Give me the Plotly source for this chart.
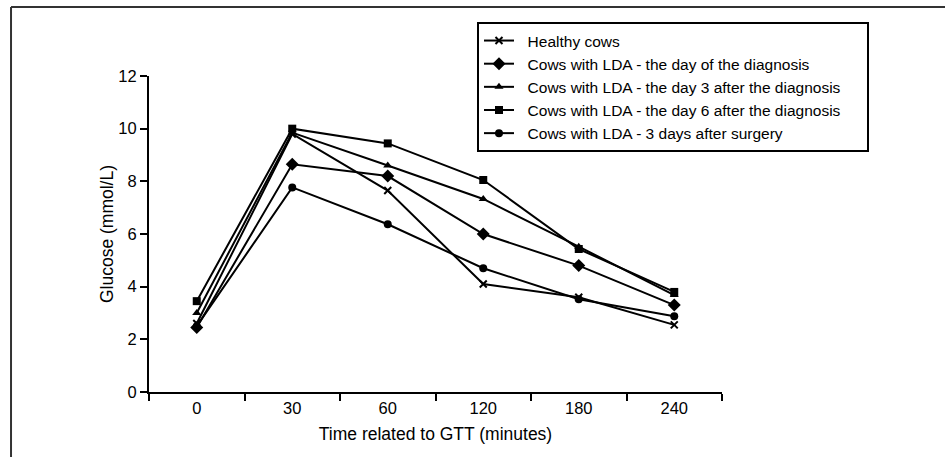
import plotly.graph_objects as go

times = ["0", "30", "60", "120", "180", "240"]
healthy = [2.6, 9.8, 7.65, 4.1, 3.6, 2.55]
lda_day0 = [2.45, 8.65, 8.2, 6.0, 4.8, 3.3]
lda_day3 = [3.0, 9.85, 8.6, 7.33, 5.52, 3.68]
lda_day6 = [3.45, 10.0, 9.44, 8.05, 5.43, 3.8]
lda_surgery = [2.5, 7.77, 6.37, 4.7, 3.52, 2.88]

names = [
    "  Healthy cows",
    "  Cows with LDA - the day of the diagnosis",
    "  Cows with LDA - the day 3 after the diagnosis\u00a0\u00a0\u00a0\u00a0\u00a0",
    "  Cows with LDA - the day 6 after the diagnosis",
    "  Cows with LDA - 3 days after surgery",
]
series = [healthy, lda_day0, lda_day3, lda_day6, lda_surgery]
symbols = ["x-thin", "diamond", "triangle-up", "square", "circle"]
sizes = [7, 10, 8, 8, 8]

fig = go.Figure()
for n, s, sym, sz in zip(names, series, symbols, sizes):
    fig.add_trace(go.Scatter(
        x=times, y=s, name=n, mode="lines+markers",
        line=dict(color="black", width=2),
        marker=dict(symbol=sym, size=sz, color="black",
                    line=dict(color="black", width=2 if sym == "x-thin" else 0)),
    ))

font_family = "Liberation Sans, Arial, sans-serif"
fig.update_layout(
    width=945, height=457,
    margin=dict(l=149, r=223, t=76, b=65),
    paper_bgcolor="white", plot_bgcolor="white",
    font=dict(family=font_family, size=16, color="black"),
    showlegend=True,
    legend=dict(
        x=0.5724, y=1.171, xanchor="left", yanchor="top",
        bordercolor="black", borderwidth=2, bgcolor="white",
        font=dict(size=15.5, color="black"),
        tracegroupgap=0,
    ),
    xaxis=dict(
        type="category", range=[-0.5, 5.5],
        showline=True, linecolor="black", linewidth=2,
        ticks="outside", tickson="boundaries", ticklen=7, tickwidth=2, tickcolor="black",
        showgrid=False, zeroline=False,
        title=dict(text="Time related to GTT (minutes)", font=dict(size=17.5), standoff=12),
        tickfont=dict(size=16.5),
    ),
    yaxis=dict(
        range=[0, 12], dtick=2,
        showline=True, linecolor="black", linewidth=2,
        ticks="outside", ticklen=7, tickwidth=2, tickcolor="black",
        showgrid=False, zeroline=False,
        title=dict(text="Glucose (mmol/L)", font=dict(size=17.5), standoff=0),
        tickfont=dict(size=16.5),
    ),
    shapes=[
        dict(type="line", xref="paper", yref="paper", x0=-0.2408, x1=1.45, y0=1.2184, y1=1.2184,
             line=dict(color="#333333", width=2)),
        dict(type="line", xref="paper", yref="paper", x0=-0.2408, x1=-0.2408, y0=-0.3, y1=1.2184,
             line=dict(color="#333333", width=2)),
    ],
)

fig.write_html("out.html", config={"displayModeBar": False},
               post_script="document.body.style.margin='0';")
